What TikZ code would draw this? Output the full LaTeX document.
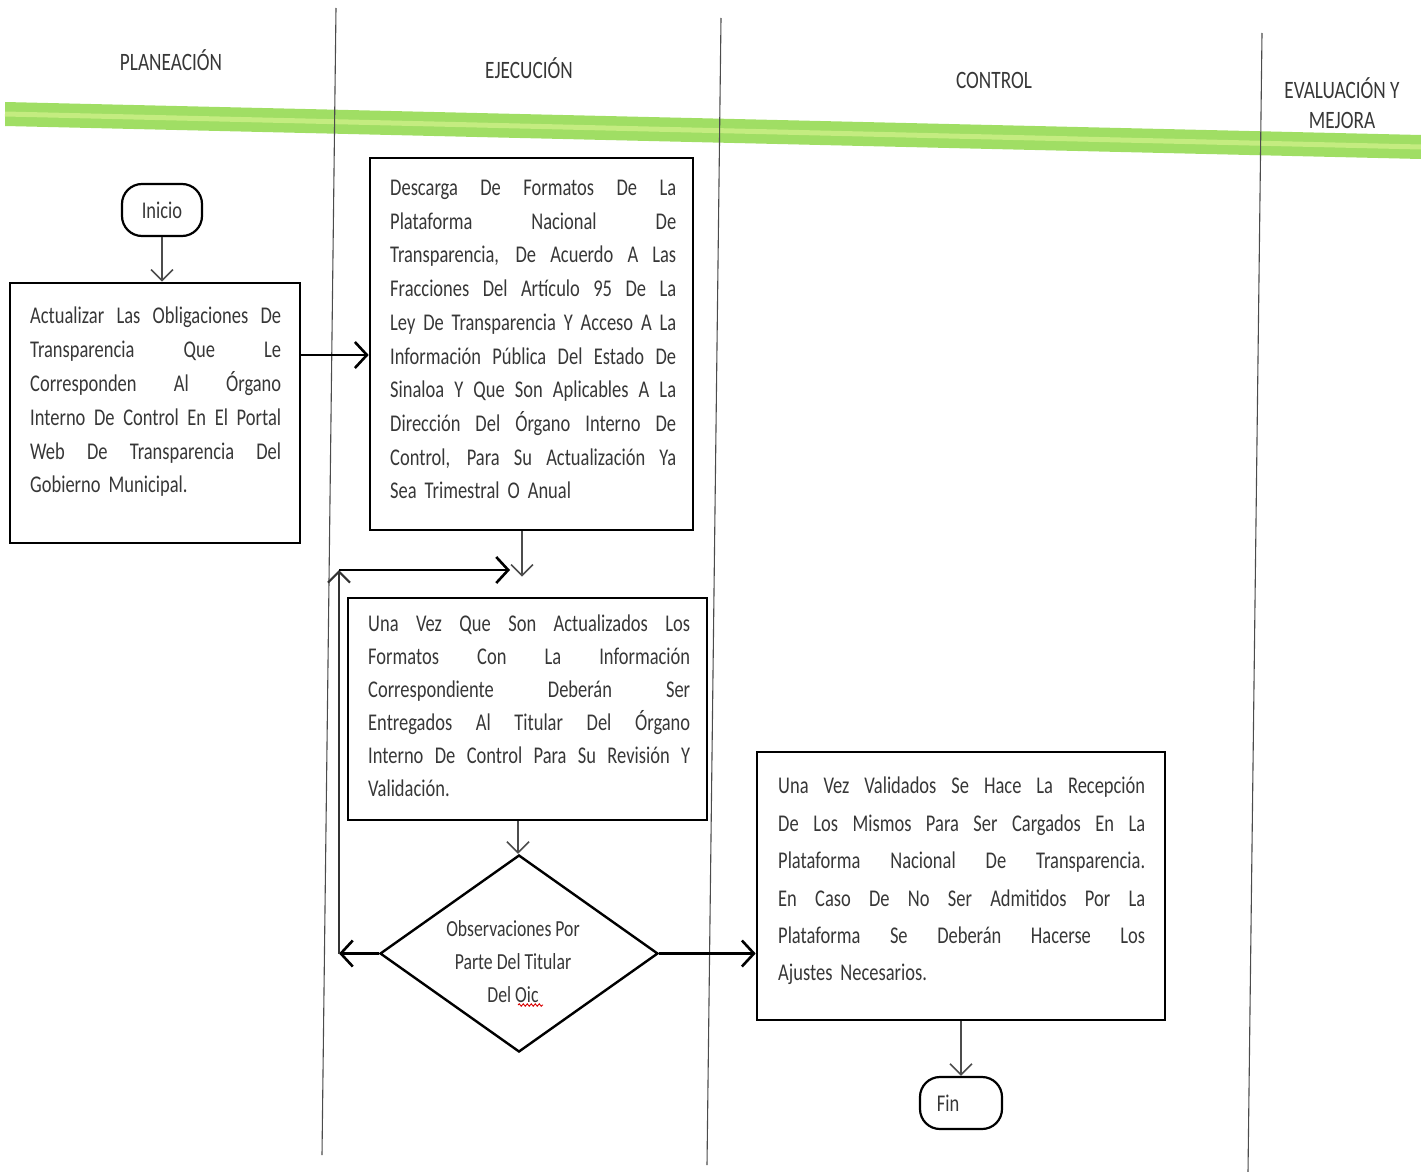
\documentclass[tikz,border=0pt]{standalone}
\usepackage{fontspec}
\setmainfont[FakeStretch=0.77]{Carlito}
\usetikzlibrary{arrows.meta,shapes.geometric,decorations.pathmorphing,calc}

% one justified line of a text block
\newcommand{\jline}[1]{\hbox to \hsize{\spaceskip=0.2em plus 1fil minus 0.08em\relax #1}\par}

\definecolor{bandgreen}{RGB}{160,222,100}
\definecolor{bandlight}{RGB}{196,236,128}
\definecolor{inkgray}{RGB}{55,55,55}

\begin{document}
\begin{tikzpicture}[x=1pt,y=-1pt,
  lane/.style={line width=1.1pt, black!70},
  header/.style={font=\fontsize{25}{30}\selectfont, text=inkgray, align=center, inner sep=0pt},
  procbox/.style={draw, line width=2.6pt, rectangle, inner sep=0pt},
  terminal/.style={draw, line width=2.2pt, rectangle, rounded corners=20pt, inner sep=0pt,
    font=\fontsize{24}{28}\selectfont, text=inkgray},
  bodytext/.style={anchor=north west, inner sep=0pt, align=left, text=inkgray},
  thickarrow/.style={line width=2.6pt, -{Straight Barb[length=12pt,width=26pt]}},
  thinarrow/.style={line width=1.6pt, black!70, -{Straight Barb[length=11pt,width=22pt]}},
  looparrow/.style={line width=2.2pt, black!80, -{Straight Barb[length=11pt,width=22pt]}}
]
\useasboundingbox (0,0) rectangle (1421,1172);

% green band under the lane headings
\fill[bandgreen] (5,102) -- (1421,135) -- (1421,159) -- (5,126) -- cycle;
\draw[bandlight, line width=5pt] (5,114) -- (1421,147);

% lane separators
\draw[lane] (336,8) -- (322,1155);
\draw[lane] (721,18) -- (707,1165);
\draw[lane] (1262,33) -- (1248,1172);

% lane headings
\node[header] (hplan) at (171,60) {PLANEACIÓN};
\node[header] (hejec) at (529,68) {EJECUCIÓN};
\node[header] (hctrl) at (994,80) {CONTROL};
\node[header] (heval) at (1342,103) {EVALUACIÓN Y\\MEJORA};

% start and end
\node[terminal, minimum width=80pt, minimum height=52pt] (ini) at (162,210) {Inicio};
\node[terminal, minimum width=82pt, minimum height=52pt] (fin) at (961,1103) {\hspace*{-26pt}Fin};

% process boxes
\node[procbox, minimum width=290pt, minimum height=260pt] (b1) at (155,413) {};
\node[procbox, minimum width=323pt, minimum height=372pt] (b2) at (531.5,344) {};
\node[procbox, minimum width=359pt, minimum height=222pt] (b3) at (527.5,709) {};
\node[procbox, minimum width=408pt, minimum height=268pt] (b4) at (961,886) {};

% decision
\node[draw, diamond, line width=2.4pt, aspect=1.41, minimum width=278pt, minimum height=197pt, inner sep=0pt] (dm) at (519,953.5) {};
\node[inner sep=0pt, align=center, text=inkgray, font=\fontsize{23}{33}\selectfont] (dmt) at (513,962)
  {Observaciones Por\\Parte Del Titular\\Del Oic};
\draw[red!85!black, line width=0.9pt, decorate, decoration={snake, amplitude=1.2pt, segment length=4pt}]
  (518,1005) -- (543,1005);

% box texts
\node[bodytext, text width=251pt, font=\fontsize{24}{33.8}\selectfont] (t1) at (30,307) {%
\jline{Actualizar Las Obligaciones De}
\jline{Transparencia Que Le}
\jline{Corresponden Al Órgano}
\jline{Interno De Control En El Portal}
\jline{Web De Transparencia Del}
Gobierno Municipal.};

\node[bodytext, text width=286pt, font=\fontsize{24}{33.7}\selectfont] (t2) at (390,180) {%
\jline{Descarga De Formatos De La}
\jline{Plataforma Nacional De}
\jline{Transparencia, De Acuerdo A Las}
\jline{Fracciones Del Artículo 95 De La}
\jline{Ley De Transparencia Y Acceso A La}
\jline{Información Pública Del Estado De}
\jline{Sinaloa Y Que Son Aplicables A La}
\jline{Dirección Del Órgano Interno De}
\jline{Control, Para Su Actualización Ya}
Sea Trimestral O Anual};

\node[bodytext, text width=322pt, font=\fontsize{24}{33}\selectfont] (t3) at (368,615) {%
\jline{Una Vez Que Son Actualizados Los}
\jline{Formatos Con La Información}
\jline{Correspondiente Deberán Ser}
\jline{Entregados Al Titular Del Órgano}
\jline{Interno De Control Para Su Revisión Y}
Validación.};

\node[bodytext, text width=367pt, font=\fontsize{24}{37.4}\selectfont] (t4) at (778,777) {%
\jline{Una Vez Validados Se Hace La Recepción}
\jline{De Los Mismos Para Ser Cargados En La}
\jline{Plataforma Nacional De Transparencia.}
\jline{En Caso De No Ser Admitidos Por La}
\jline{Plataforma Se Deberán Hacerse Los}
Ajustes Necesarios.};

% connectors
\draw[thinarrow] (ini.south) -- (b1.north -| ini.south);

\coordinate (a1) at ([yshift=58pt]b1.east);
\draw[thickarrow] (a1) -- (a1 -| b2.west);

\coordinate (a2) at ([xshift=-9.5pt]b2.south);
\draw[thinarrow, shorten >=20pt] (a2) -- (a2 |- b3.north);

\coordinate (a3) at ([xshift=-9.5pt]b3.south);
\draw[thinarrow] (a3) -- (a3 |- dm.north);

\coordinate (lp1) at (339,953.5);
\coordinate (lp2) at (339,570);
\coordinate (lp3) at (510,570);
\draw[thickarrow] (dm.west) -- (lp1);
\draw[looparrow] (lp1) -- (lp2);
\draw[thickarrow] (lp2) -- (lp3);

\draw[thickarrow] (dm.east) -- (dm.east -| b4.west);

\draw[thinarrow] (b4.south) -- (fin.north);
\end{tikzpicture}
\end{document}
